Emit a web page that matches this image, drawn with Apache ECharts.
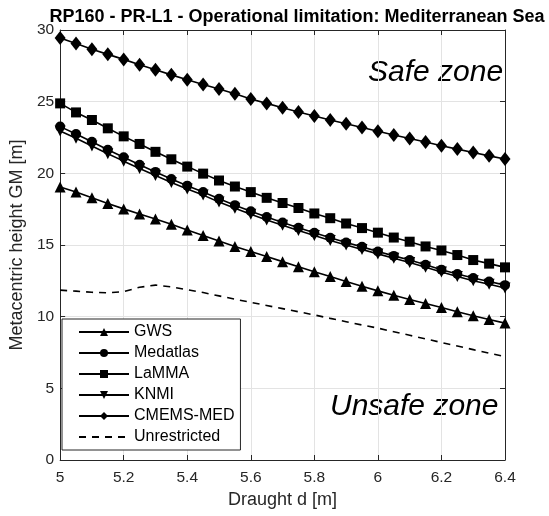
<!DOCTYPE html>
<html>
<head>
<meta charset="utf-8">
<script src="https://cdn.jsdelivr.net/npm/echarts@6/dist/echarts.min.js"></script>
<style>
  html, body { margin: 0; padding: 0; background: #fff; }
  #chart { width: 549px; height: 516px; }
</style>
</head>
<body>
<div id="chart"></div>
<script>
// Draught values [m]
const draught = [5.0, 5.05, 5.1, 5.15, 5.2, 5.25, 5.3, 5.35, 5.4, 5.45, 5.5, 5.55, 5.6, 5.65, 5.7,
                 5.75, 5.8, 5.85, 5.9, 5.95, 6.0, 6.05, 6.1, 6.15, 6.2, 6.25, 6.3, 6.35, 6.4];

// Limiting metacentric height GM [m] per wave dataset
const gws = [19.05, 18.7, 18.3, 17.9, 17.52, 17.17, 16.82, 16.45, 16.05, 15.67, 15.28, 14.9, 14.54, 14.2, 13.84,
             13.49, 13.14, 12.8, 12.46, 12.12, 11.8, 11.5, 11.2, 10.92, 10.64, 10.35, 10.06, 9.8, 9.55];
const medatlas = [23.26, 22.75, 22.2, 21.65, 21.12, 20.6, 20.1, 19.6, 19.14, 18.7, 18.22, 17.78, 17.35, 16.95, 16.57,
                  16.2, 15.85, 15.5, 15.18, 14.87, 14.55, 14.24, 13.95, 13.62, 13.28, 12.98, 12.7, 12.45, 12.2];
const lamma = [24.88, 24.25, 23.72, 23.14, 22.58, 22.05, 21.5, 20.98, 20.47, 19.98, 19.5, 19.08, 18.69, 18.29, 17.93,
               17.58, 17.2, 16.87, 16.5, 16.18, 15.86, 15.52, 15.23, 14.9, 14.62, 14.3, 13.95, 13.7, 13.44];
const knmi = [22.95, 22.45, 21.91, 21.37, 20.85, 20.34, 19.85, 19.36, 18.91, 18.48, 18.0, 17.57, 17.15, 16.75, 16.38,
              16.01, 15.67, 15.32, 15.0, 14.69, 14.38, 14.07, 13.78, 13.45, 13.11, 12.8, 12.51, 12.26, 12.0];
const cmemsMed = [29.45, 29.05, 28.65, 28.3, 27.95, 27.58, 27.22, 26.87, 26.53, 26.2, 25.88, 25.55, 25.18, 24.88, 24.58,
                  24.28, 24.0, 23.72, 23.46, 23.2, 22.94, 22.68, 22.43, 22.18, 21.93, 21.69, 21.45, 21.22, 21.0];
const unrestricted = [11.85, 11.78, 11.7, 11.66, 11.75, 12.05, 12.2, 12.08, 11.88, 11.68, 11.45, 11.22, 11.0, 10.78, 10.56,
                      10.34, 10.12, 9.88, 9.65, 9.42, 9.2, 8.95, 8.7, 8.45, 8.2, 7.95, 7.7, 7.45, 7.22];

const xTicks = [5, 5.2, 5.4, 5.6, 5.8, 6, 6.2, 6.4];
const yTicks = [0, 5, 10, 15, 20, 25, 30];

const ink = '#262626';
const font = 'Liberation Sans, Arial, sans-serif';

function pairs(ys) {
  return draught.map((x, i) => [x, ys[i]]);
}

function markedSeries(name, ys, symbol, size, rotate) {
  return {
    name: name,
    type: 'line',
    data: pairs(ys),
    symbol: symbol,
    symbolSize: size,
    symbolRotate: rotate || 0,
    showAllSymbol: true,
    lineStyle: { color: '#000', width: 1.6 },
    itemStyle: { color: '#000', borderWidth: 0 },
    emphasis: { disabled: true },
    animation: false,
    z: 3
  };
}

const chart = echarts.init(document.getElementById('chart'), null, { renderer: 'canvas' });

const axisCommon = {
  type: 'value',
  axisLine: { show: true, onZero: false, lineStyle: { color: ink, width: 1 } },
  axisTick: { show: true, inside: true, length: 5, lineStyle: { color: ink } },
  axisLabel: { color: ink, fontSize: 15.5, fontFamily: font },
  splitLine: { show: false }
};

chart.setOption({
  backgroundColor: '#fff',
  animation: false,
  title: {
    text: 'RP160 - PR-L1 - Operational limitation: Mediterranean Sea',
    left: 292,
    textAlign: 'center',
    top: 3,
    textStyle: { fontSize: 18, fontWeight: 'bold', color: '#000', fontFamily: font }
  },
  grid: { left: 57, right: 44, top: 30, bottom: 56, containLabel: false },
  xAxis: [
    Object.assign({}, axisCommon, {
      min: 5, max: 6.4, interval: 0.2,
      name: 'Draught d [m]', nameLocation: 'middle', nameGap: 30,
      nameTextStyle: { color: ink, fontSize: 18, fontFamily: font },
      axisLabel: Object.assign({}, axisCommon.axisLabel, {
        margin: 10,
        formatter: v => {
          const t = xTicks.find(k => Math.abs(k - v) < 1e-6);
          return t === undefined ? '' : String(t);
        }
      }),
      splitLine: { show: true, lineStyle: { color: '#e3e3e3', width: 1 } }
    }),
    Object.assign({}, axisCommon, {
      position: 'top', min: 5, max: 6.4, interval: 0.2,
      axisLabel: { show: false }
    })
  ],
  yAxis: [
    Object.assign({}, axisCommon, {
      min: 0, max: 30, interval: 5,
      name: 'Metacentric height GM [m]', nameLocation: 'middle', nameGap: 30,
      nameTextStyle: { color: ink, fontSize: 18, fontFamily: font },
      axisLabel: Object.assign({}, axisCommon.axisLabel, {
        margin: 6,
        formatter: v => yTicks.includes(v) ? String(v) : ''
      }),
      splitLine: { show: true, lineStyle: { color: '#e3e3e3', width: 1 } }
    }),
    Object.assign({}, axisCommon, {
      position: 'right', min: 0, max: 30, interval: 5,
      axisLabel: { show: false }
    })
  ],
  legend: {
    orient: 'vertical',
    left: 62,
    top: 319,
    backgroundColor: '#fff',
    borderColor: ink,
    borderWidth: 1,
    borderRadius: 0,
    padding: [5, 6, 5, 16],
    itemGap: 5,
    itemWidth: 50,
    itemHeight: 10,
    textStyle: { fontSize: 16, color: '#000', fontFamily: font, padding: [0, 0, 0, 0], lineHeight: 16 },
    selectedMode: false,
    data: ['GWS', 'Medatlas', 'LaMMA', 'KNMI', 'CMEMS-MED',
           { name: 'Unrestricted', itemStyle: { opacity: 0 } }]
  },
  series: [
    markedSeries('GWS', gws, 'triangle', 11),
    markedSeries('Medatlas', medatlas, 'circle', 10),
    markedSeries('LaMMA', lamma, 'rect', 10),
    markedSeries('KNMI', knmi, 'triangle', 11, 180),
    markedSeries('CMEMS-MED', cmemsMed, 'diamond', [11, 14]),
    {
      name: 'Unrestricted',
      type: 'line',
      data: pairs(unrestricted),
      symbol: 'none',
      lineStyle: { color: '#000', width: 1.6, type: [7, 6] },
      itemStyle: { color: '#000' },
      emphasis: { disabled: true },
      animation: false,
      z: 3
    }
  ],
  graphic: [
    {
      type: 'text',
      left: 368, top: 58,
      style: { text: 'Safe zone', font: 'italic 30px ' + font, fill: '#000' }
    },
    {
      type: 'text',
      left: 330, top: 392,
      style: { text: 'Unsafe zone', font: 'italic 30px ' + font, fill: '#000' }
    }
  ]
});
</script>
</body>
</html>
